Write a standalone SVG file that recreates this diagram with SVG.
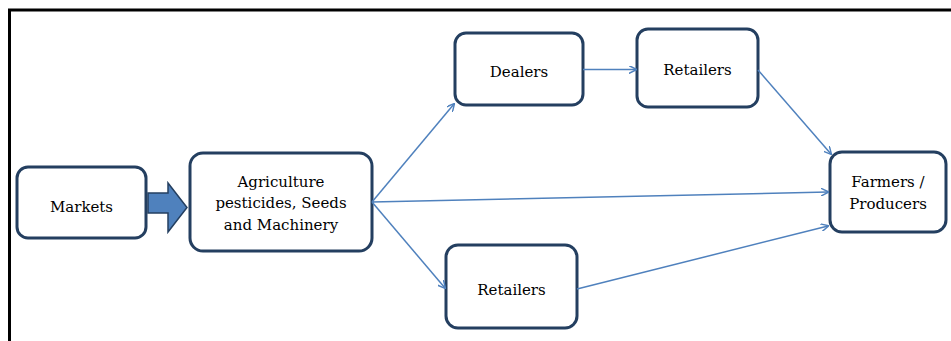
<svg xmlns="http://www.w3.org/2000/svg" width="951" height="341" viewBox="0 0 951 341">
<style>
.box{fill:#fff;stroke:#243f60;stroke-width:3}
.lbl{font-size:15px;fill:#000;text-anchor:middle}
.con{stroke:#4f81bd;stroke-width:1.5;fill:none;marker-end:url(#ah)}
</style>
<defs>
<marker id="ah" viewBox="0 0 10 10" refX="9" refY="5" markerWidth="8" markerHeight="8" markerUnits="userSpaceOnUse" orient="auto">
<path d="M0,0 L10,5 L0,10" fill="none" stroke="#4f81bd" stroke-width="1.8"/>
</marker>
</defs>
<rect x="0" y="0" width="951" height="341" fill="#fff"/>
<path d="M9.5,345 V10 H960" fill="none" stroke="#000" stroke-width="3"/>
<g id="markets" font-family="DejaVu Serif, serif"><rect class="box" x="17" y="167" width="129" height="71" rx="11"/><text class="lbl" x="81.5" y="212">Markets</text></g>
<g id="agri" font-family="DejaVu Serif, serif"><rect class="box" x="190" y="153" width="182" height="98" rx="13"/><text class="lbl" x="281" y="187">Agriculture</text><text class="lbl" x="281" y="208">pesticides, Seeds</text><text class="lbl" x="281" y="230">and Machinery</text></g>
<g id="dealers" font-family="DejaVu Serif, serif"><rect class="box" x="455" y="33" width="128" height="72" rx="11"/><text class="lbl" x="519" y="77">Dealers</text></g>
<g id="retailers1" font-family="DejaVu Serif, serif"><rect class="box" x="637" y="29" width="121" height="78" rx="11"/><text class="lbl" x="697.5" y="75">Retailers</text></g>
<g id="retailers2" font-family="DejaVu Serif, serif"><rect class="box" x="446" y="245" width="131" height="83" rx="12"/><text class="lbl" x="511.5" y="295">Retailers</text></g>
<g id="farmers" font-family="DejaVu Serif, serif"><rect class="box" x="830" y="152" width="116" height="80" rx="12"/><text class="lbl" x="888" y="187">Farmers /</text><text class="lbl" x="888" y="209">Producers</text></g>
<g id="connectors">
<path d="M148,193 H168 V183 L187,207.5 L168,232 V213 H148 Z" fill="#4f81bd" stroke="#243f60" stroke-width="1.5"/>
<line class="con" x1="372" y1="202" x2="454" y2="104"/>
<line class="con" x1="372" y1="202" x2="445" y2="288"/>
<line class="con" x1="372" y1="202" x2="828" y2="192"/>
<line class="con" x1="583" y1="69.5" x2="636" y2="69.5"/>
<line class="con" x1="758" y1="70" x2="831" y2="154"/>
<line class="con" x1="577" y1="289" x2="828" y2="226"/>
</g>
</svg>
